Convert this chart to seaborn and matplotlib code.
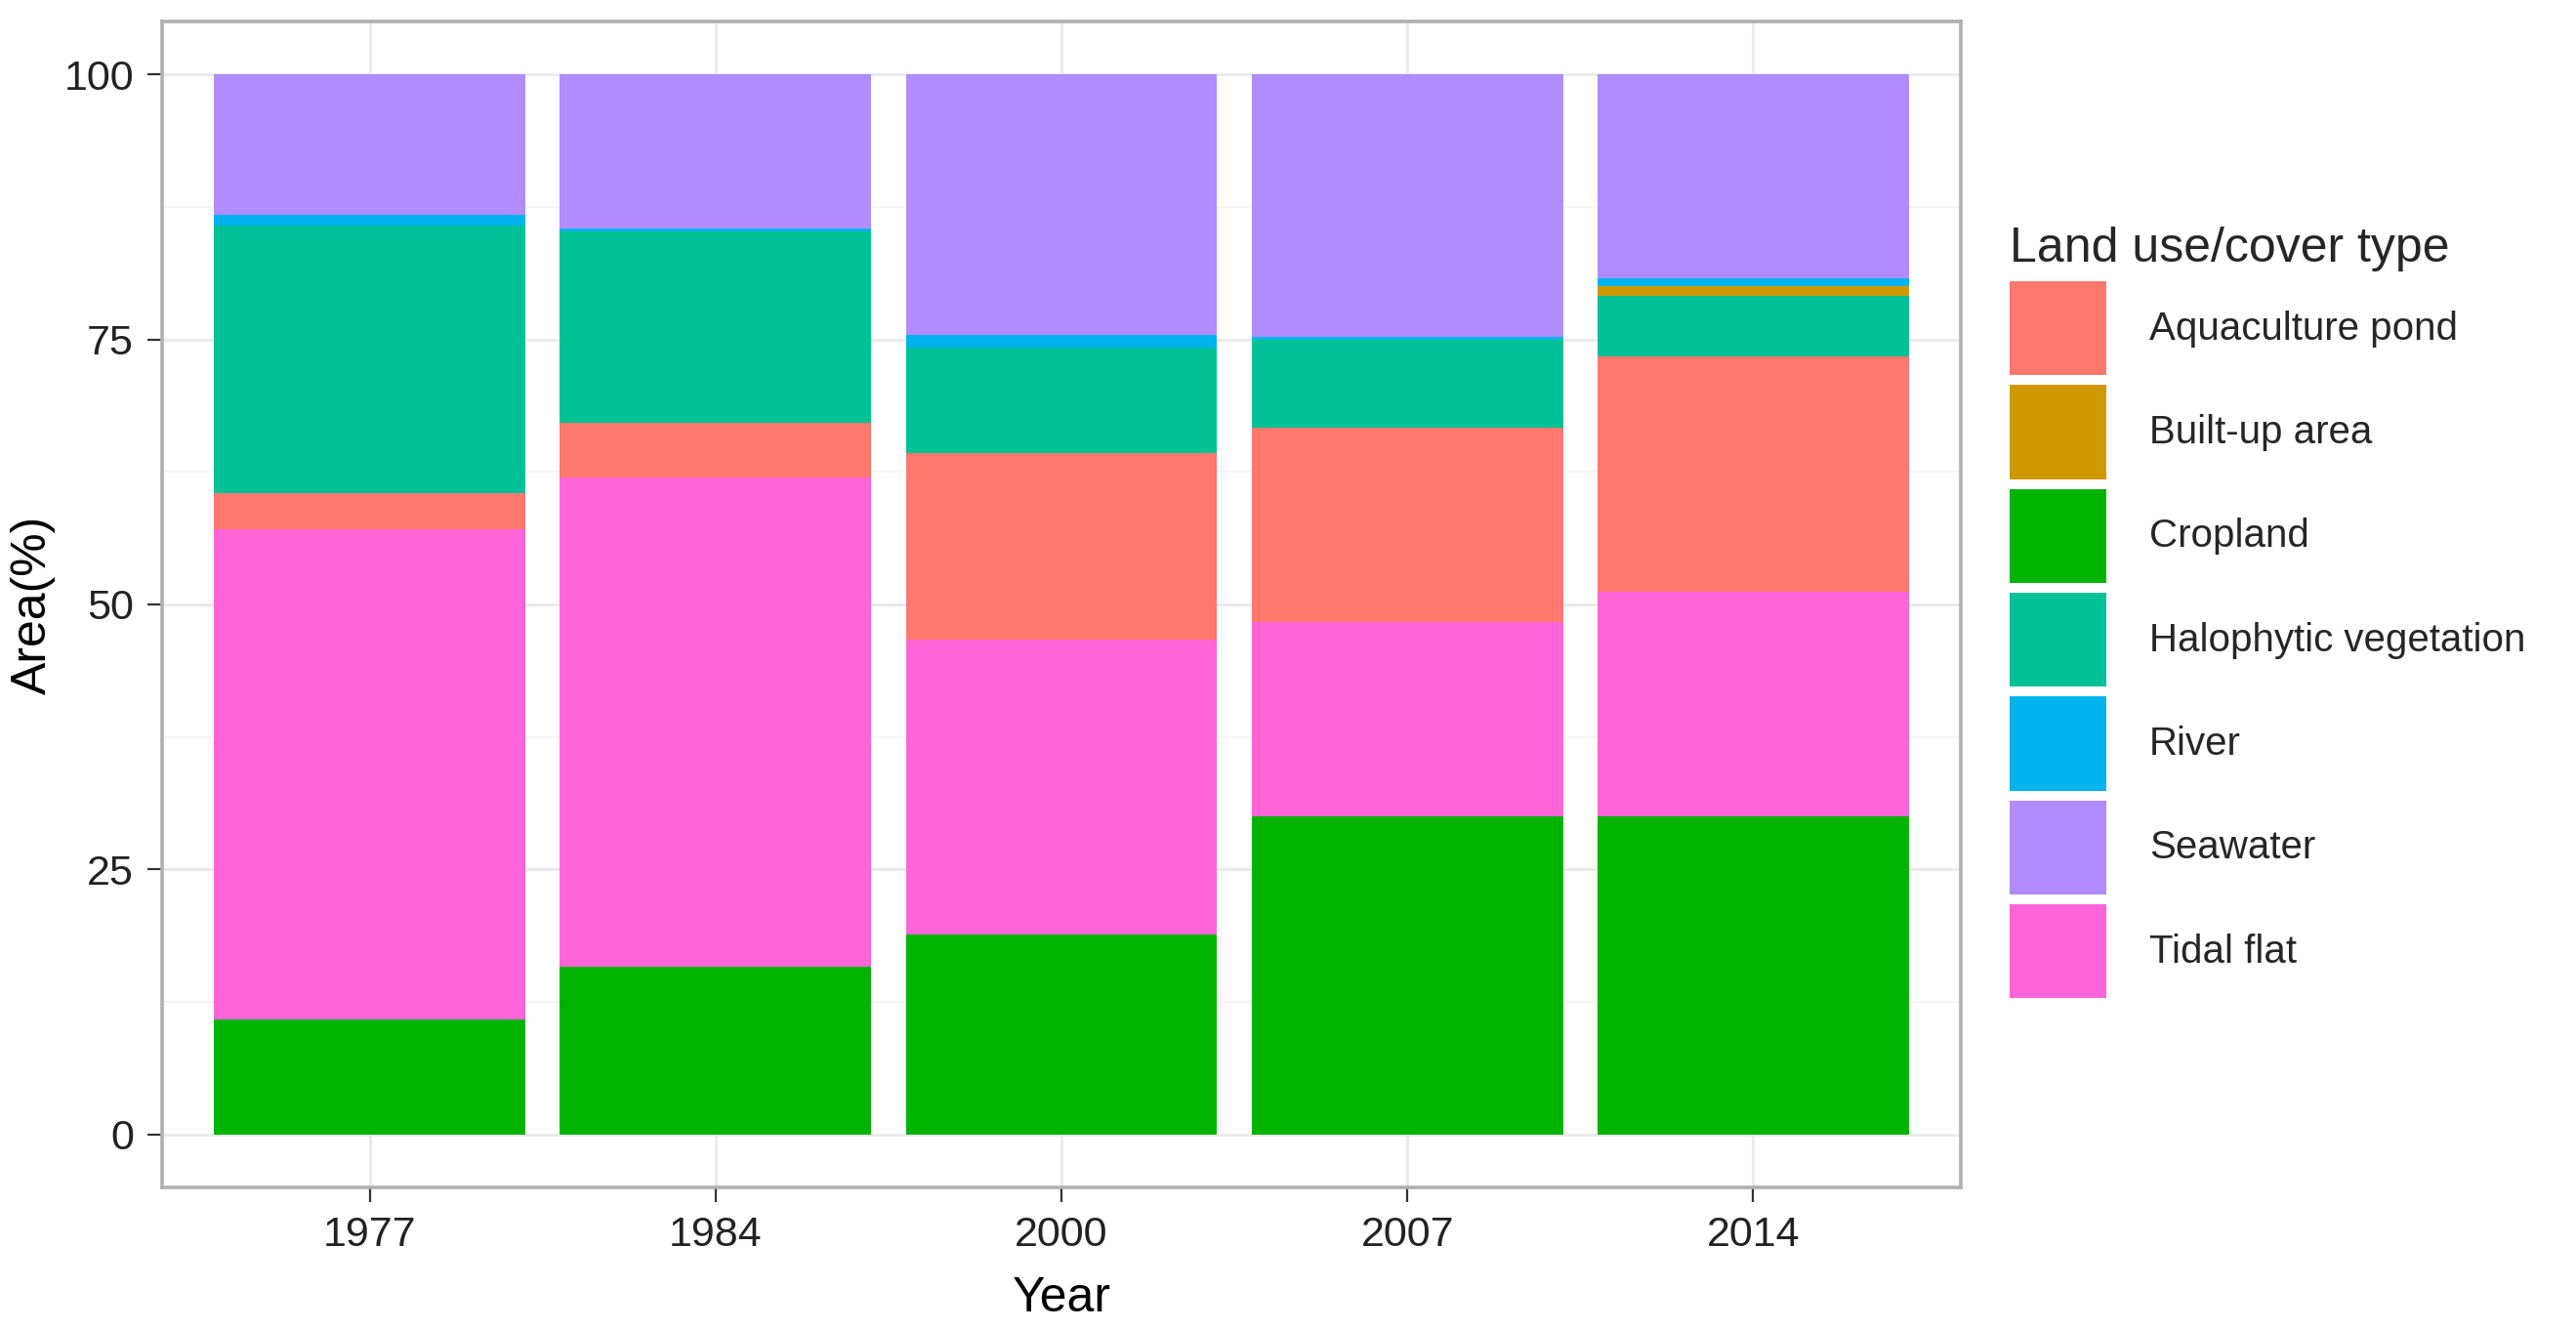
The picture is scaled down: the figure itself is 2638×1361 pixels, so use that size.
import pandas as pd
import matplotlib
matplotlib.use("Agg")
from matplotlib import pyplot
from matplotlib.patches import Patch
import matplotlib.ticker as ticker
import seaborn as sns

# data (percent of area per year)
years = ['1977', '1984', '2000', '2007', '2014']
cropland = [10.8, 15.8, 18.9, 30.0, 30.0]
tidal_flat = [46.3, 46.2, 27.8, 18.3, 21.2]
aquaculture = [3.4, 5.1, 17.6, 18.4, 22.2]
halophytic = [25.2, 18.1, 9.9, 8.3, 5.7]
built_up = [0.0, 0.0, 0.0, 0.0, 0.9]
river = [1.1, 0.3, 1.2, 0.2, 0.8]
seawater = [13.2, 14.5, 24.6, 24.8, 19.2]

legendOrder = ['Aquaculture pond', 'Built-up area', 'Cropland',
			   'Halophytic vegetation', 'River', 'Seawater', 'Tidal flat']
# seaborn stacks the last hue level at the bottom
stackOrder = ['Seawater', 'River', 'Built-up area', 'Halophytic vegetation',
			  'Aquaculture pond', 'Tidal flat', 'Cropland']
colours = {
	'Aquaculture pond': '#FF786E',
	'Built-up area': '#CF9A00',
	'Cropland': '#00B300',
	'Halophytic vegetation': '#00C095',
	'River': '#00B2EE',
	'Seawater': '#B08CFF',
	'Tidal flat': '#FF64D9',
}

series = {
	'Cropland': cropland,
	'Tidal flat': tidal_flat,
	'Aquaculture pond': aquaculture,
	'Halophytic vegetation': halophytic,
	'Built-up area': built_up,
	'River': river,
	'Seawater': seawater,
}
rows = []
for name, vals in series.items():
	for y, v in zip(years, vals):
		rows.append({'Year': y, 'Type': name, 'Area': v})
df = pd.DataFrame(rows)

sns.set_theme(style="white")
pyplot.rcParams['font.family'] = ['Liberation Sans', 'DejaVu Sans']

W, H = 2638, 1361
fig = pyplot.figure(figsize=(W / 200, H / 200), dpi=200)
ax = fig.add_axes([166 / W, 1 - 1216 / H, (2008 - 166) / W, (1216 - 22) / H])

sns.histplot(data=df, x='Year', weights='Area', hue='Type', hue_order=stackOrder,
			 multiple='stack', discrete=True, shrink=0.9, palette=colours,
			 alpha=1, linewidth=0, legend=False, ax=ax, zorder=3)

ax.set_xlim(-0.6, 4.6)
ax.set_ylim(-5, 105)
ax.set_xticks(range(len(years)))
ax.set_xticklabels(years)
ax.yaxis.set_major_locator(ticker.FixedLocator([0, 25, 50, 75, 100]))
ax.yaxis.set_minor_locator(ticker.FixedLocator([12.5, 37.5, 62.5, 87.5]))

ax.grid(which='major', color='#ebebeb', linewidth=1.1, zorder=0)
ax.grid(which='minor', axis='y', color='#f3f3f3', linewidth=0.6, zorder=0)
ax.set_axisbelow(True)

for s in ax.spines.values():
	s.set_color('#b0b0b0')
	s.set_linewidth(1.3)

ax.tick_params(axis='both', which='major', length=5.4, width=0.8, color='#333333',
			   labelsize=15.5, labelcolor='#222222', pad=5,
			   bottom=True, left=True)
ax.tick_params(axis='y', which='minor', length=0)

ax.set_xlabel('Year', fontsize=18, color='black', labelpad=8)
ax.set_ylabel('Area(%)', fontsize=18, color='black', labelpad=3)

handles = [Patch(facecolor=colours[n], edgecolor='none') for n in legendOrder]
leg = fig.legend(handles, legendOrder, title='Land use/cover type',
				 loc='upper left', bbox_to_anchor=(2058 / W, 1 - 232 / H),
				 frameon=False, fontsize=14.5, title_fontsize=18,
				 handlelength=2.45, handleheight=3.3, labelspacing=0.25,
				 handletextpad=1.1, borderaxespad=0, borderpad=0,
				 alignment='left')

fig.savefig('out.png', dpi=200)
